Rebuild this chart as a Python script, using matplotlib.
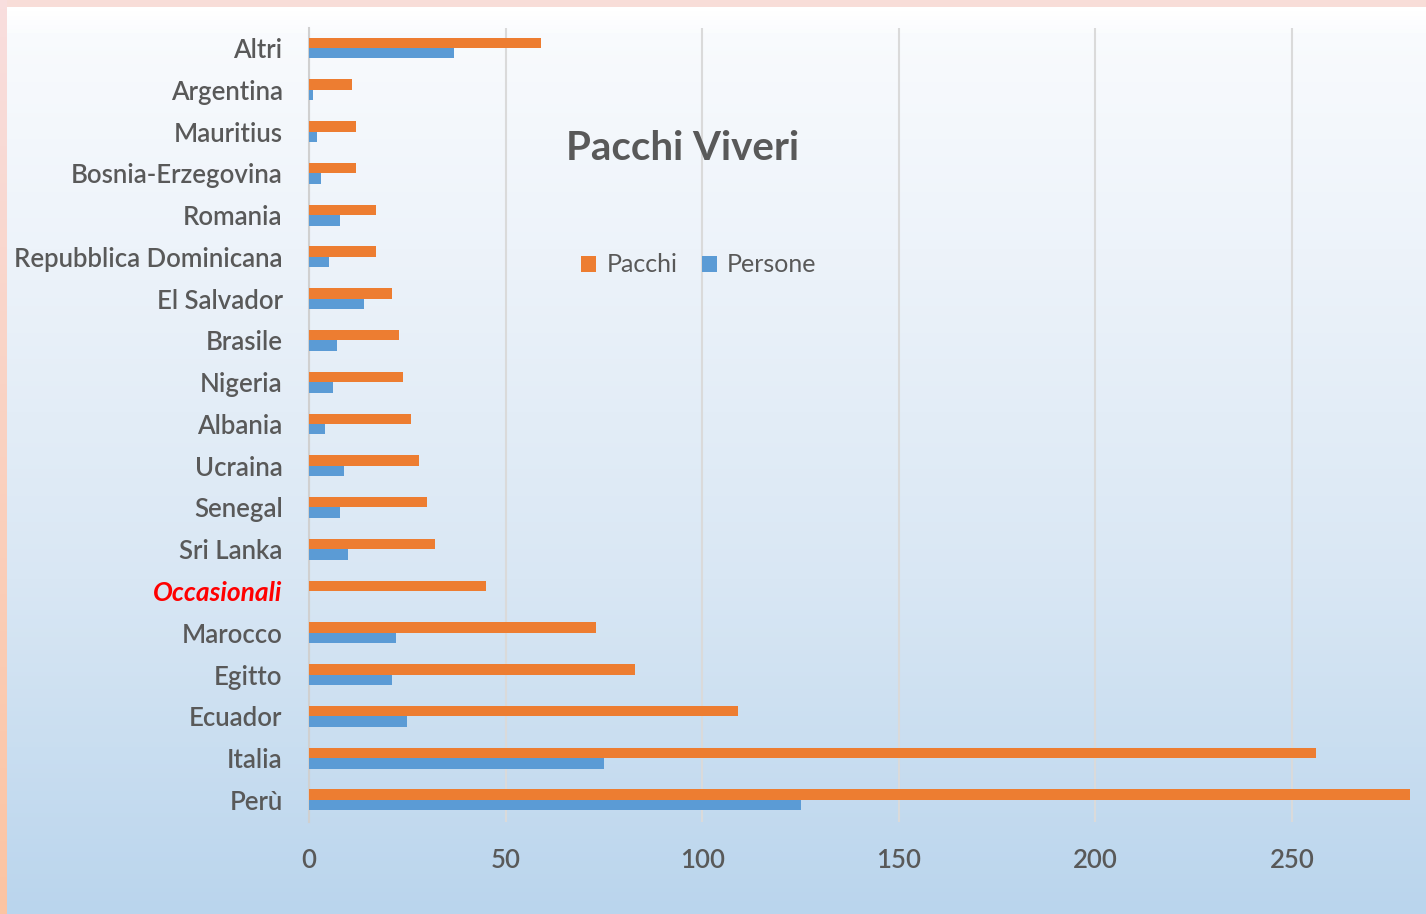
import numpy as np
import matplotlib
matplotlib.use("Agg")
import matplotlib.pyplot as plt
from matplotlib.colors import LinearSegmentedColormap

categories = ["Altri", "Argentina", "Mauritius", "Bosnia-Erzegovina", "Romania",
              "Repubblica Dominicana", "El Salvador", "Brasile", "Nigeria", "Albania",
              "Ucraina", "Senegal", "Sri Lanka", "Occasionali", "Marocco", "Egitto",
              "Ecuador", "Italia", "Perù"]
pacchi = [59, 11, 12, 12, 17, 17, 21, 23, 24, 26, 28, 30, 32, 45, 73, 83, 109, 256, 280]
persone = [37, 1, 2, 3, 8, 5, 14, 7, 6, 4, 9, 8, 10, 0, 22, 21, 25, 75, 125]
xticks = [0, 50, 100, 150, 200, 250]

plt.rcParams['font.family'] = ['Lato', 'DejaVu Sans']
W, H = 1426, 914
fig = plt.figure(figsize=(W / 100, H / 100), dpi=100, facecolor="#f8ddd8")

# background gradient panel
bg = fig.add_axes([7 / W, 0, 1 - 7 / W, 1 - 7 / H])
bg.set_axis_off()
cmap = LinearSegmentedColormap.from_list("g", ["#ffffff", "#edf3fa", "#d9e7f4", "#bad5ed"])
grad = np.concatenate([np.linspace(0, 0.08, 6), np.linspace(0.12, 1, 200)])[:, None]
bg.imshow(grad, aspect="auto", cmap=cmap, vmin=0, vmax=1, extent=[0, 1, 0, 1], origin="upper")

# left peach strip
strip = fig.add_axes([0, 0, 7 / W, 1])
strip.set_axis_off()
cmap2 = LinearSegmentedColormap.from_list("s", ["#f8dede", "#fcc4a2"])
strip.imshow(np.linspace(0, 1, 100)[:, None], aspect="auto", cmap=cmap2, extent=[0, 1, 0, 1], origin="upper")

ax = fig.add_axes([309 / W, 1 - 822 / H, (1410 - 309) / W, (822 - 28) / H])
ax.set_facecolor("none")

n = len(categories)
y = np.arange(n)[::-1]
h = 0.25
ax.barh(y + h / 2, pacchi, height=h, color="#ed7d31", label="Pacchi", zorder=3)
ax.barh(y - h / 2, persone, height=h, color="#5b9bd5", label="Persone", zorder=3)

ax.set_xlim(0, 280)
ax.set_ylim(-0.53, n - 1 + 0.48)
ax.set_xticks(xticks)
ax.set_xticklabels([str(t) for t in xticks])
ax.set_yticks(y)
ax.set_yticklabels(categories)
ax.grid(axis="x", color="#dadada", linewidth=1.5, zorder=0)
ax.set_axisbelow(True)
for s in ["top", "right", "bottom"]:
    ax.spines[s].set_visible(False)
ax.spines["left"].set_color("#d0d0d0")
ax.spines["left"].set_linewidth(1.5)
ax.tick_params(axis="both", length=0, labelsize=18.5, labelcolor="#595959")
ax.tick_params(axis="y", pad=19)
ax.tick_params(axis="x", pad=19)
for lbl in ax.get_yticklabels() + ax.get_xticklabels():
    lbl.set_fontweight("semibold")

for lbl in ax.get_yticklabels():
    if lbl.get_text() == "Occasionali":
        lbl.set_color("#ff0000")
        lbl.set_fontstyle("italic")
        lbl.set_fontweight("bold")
        lbl.set_fontsize(19)

fig.text(683 / W, 1 - 149 / H, "Pacchi Viveri", ha="center", va="center",
         fontsize=29, fontweight="bold", color="#595959")

leg = ax.legend(loc="center", bbox_to_anchor=((699 - 309) / (1410 - 309), (822 - 265) / (822 - 28)),
                ncol=2, frameon=False, fontsize=18, handlelength=0.6, handleheight=0.6,
                handletextpad=0.4, columnspacing=1.0)
for t in leg.get_texts():
    t.set_color("#595959")

fig.savefig("out.png", dpi=100, facecolor=fig.get_facecolor())
